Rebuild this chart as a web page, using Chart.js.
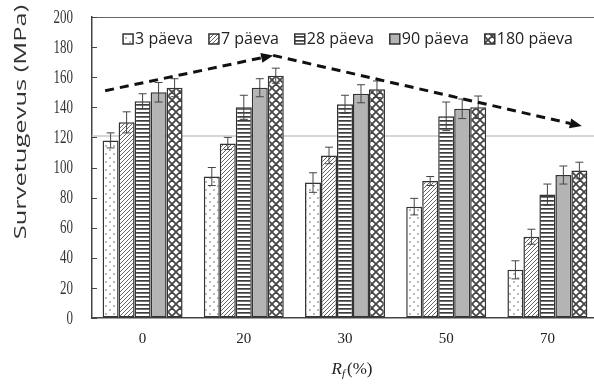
<!DOCTYPE html>
<html>
<head>
<meta charset="utf-8">
<script src="https://cdn.jsdelivr.net/npm/chart.js@4/dist/chart.umd.min.js"></script>
<style>
  html, body { margin: 0; padding: 0; background: #fff; overflow: hidden; }
  #wrap { width: 600px; height: 389px; }
</style>
</head>
<body>
<div id="wrap"><canvas id="c" width="600" height="389"></canvas></div>
<script>
// Compressive strength by replacement ratio and curing age
const categories = ['0', '20', '30', '50', '70'];
const seriesNames = ['3 päeva', '7 päeva', '28 päeva', '90 päeva', '180 päeva'];

const day3   = [118, 94, 90, 74, 32];
const day7   = [130, 116, 108, 91, 54];
const day28  = [144, 140, 142, 134, 82];
const day90  = [150, 153, 149, 139, 95];
const day180 = [153, 161, 152, 140, 98];

const err3   = [5, 6, 6.5, 5.5, 6];
const err7   = [7, 4, 5.5, 3, 5];
const err28  = [5, 8, 6, 9.5, 7];
const err90  = [6.5, 6, 6, 6.5, 6];
const err180 = [6, 5, 5.5, 7.5, 5.5];

// trend arrow path: x as category position, y in MPa
const trendX = [-0.37, 1.29, 4.34];
const trendY = [151, 174.5, 127.5];

const refLine = 121;
const yTicks = [0, 20, 40, 60, 80, 100, 120, 140, 160, 180, 200];

function makePattern(size, draw) {
  const cv = document.createElement('canvas');
  cv.width = size; cv.height = size;
  const g = cv.getContext('2d');
  draw(g, size);
  return g.createPattern(cv, 'repeat');
}

const fills = [
  // dotted
  makePattern(8, (g, s) => {
    g.fillStyle = '#fff'; g.fillRect(0, 0, s, s);
    g.fillStyle = '#9a9a9a';
    g.beginPath(); g.arc(2, 2, 0.9, 0, Math.PI * 2); g.fill();
    g.beginPath(); g.arc(6, 6, 0.9, 0, Math.PI * 2); g.fill();
  }),
  // diagonal hatch
  makePattern(4, (g, s) => {
    g.fillStyle = '#fff'; g.fillRect(0, 0, s, s);
    g.strokeStyle = '#666'; g.lineWidth = 1;
    g.beginPath();
    g.moveTo(0, s); g.lineTo(s, 0);
    g.moveTo(-1, 1); g.lineTo(1, -1);
    g.moveTo(s - 1, s + 1); g.lineTo(s + 1, s - 1);
    g.stroke();
  }),
  // horizontal stripes
  makePattern(4, (g, s) => {
    g.fillStyle = '#fff'; g.fillRect(0, 0, s, s);
    g.fillStyle = '#3c3c3c'; g.fillRect(0, 0, s, 1.7);
  }),
  // solid grey
  '#b4b4b4',
  // cross hatch with white diamonds
  makePattern(8, (g, s) => {
    g.fillStyle = '#fff'; g.fillRect(0, 0, s, s);
    g.strokeStyle = '#444'; g.lineWidth = 1.7;
    g.beginPath();
    g.moveTo(0, 0); g.lineTo(s, s);
    g.moveTo(0, s); g.lineTo(s, 0);
    g.moveTo(-s/2, s/2); g.lineTo(s/2, -s/2);
    g.moveTo(s/2, s + s/2); g.lineTo(s + s/2, s/2);
    g.moveTo(-s/2, s/2); g.lineTo(s/2, s + s/2);
    g.moveTo(s/2, -s/2); g.lineTo(s + s/2, s/2);
    g.stroke();
  })
];

const values = [day3, day7, day28, day90, day180];
const errors = [err3, err7, err28, err90, err180];

const datasets = values.map((v, i) => ({
  label: seriesNames[i],
  data: v,
  backgroundColor: fills[i],
  borderColor: '#333',
  borderWidth: 1.5,
  borderSkipped: false,
  errors: errors[i]
}));

const decor = {
  id: 'decor',
  beforeDatasetsDraw(chart) {
    const { ctx, chartArea: a, scales: { y } } = chart;
    const yy = y.getPixelForValue(refLine);
    ctx.save();
    ctx.strokeStyle = '#c9c9c9';
    ctx.lineWidth = 1.5;
    ctx.beginPath(); ctx.moveTo(a.left, yy); ctx.lineTo(a.right, yy); ctx.stroke();
    ctx.restore();
  },
  afterDatasetsDraw(chart) {
    const { ctx, chartArea: a, scales: { x, y } } = chart;
    ctx.save();

    // error bars
    ctx.strokeStyle = '#444';
    ctx.lineWidth = 1;
    chart.data.datasets.forEach((ds, di) => {
      const meta = chart.getDatasetMeta(di);
      meta.data.forEach((el, i) => {
        const v = ds.data[i], e = ds.errors[i];
        const t = y.getPixelForValue(v + e), b = y.getPixelForValue(v - e);
        ctx.beginPath();
        ctx.moveTo(el.x, t); ctx.lineTo(el.x, b);
        ctx.moveTo(el.x - 4, t); ctx.lineTo(el.x + 4, t);
        ctx.moveTo(el.x - 4, b); ctx.lineTo(el.x + 4, b);
        ctx.stroke();
      });
    });

    // trend arrows
    const pts = trendX.map((tx, i) => [x.getPixelForValue(tx), y.getPixelForValue(trendY[i])]);
    ctx.strokeStyle = '#111';
    ctx.fillStyle = '#111';
    ctx.lineWidth = 3;
    ctx.setLineDash([9, 6]);
    for (let i = 0; i < pts.length - 1; i++) {
      const [x0, y0] = pts[i], [x1, y1] = pts[i + 1];
      const ang = Math.atan2(y1 - y0, x1 - x0);
      const L = 12;
      ctx.beginPath();
      ctx.moveTo(x0, y0);
      ctx.lineTo(x1 - L * Math.cos(ang), y1 - L * Math.sin(ang));
      ctx.stroke();
      ctx.save();
      ctx.setLineDash([]);
      ctx.translate(x1, y1); ctx.rotate(ang);
      ctx.beginPath();
      ctx.moveTo(0, 0); ctx.lineTo(-L, -5); ctx.lineTo(-L, 5); ctx.closePath();
      ctx.fill();
      ctx.restore();
    }
    ctx.setLineDash([]);

    // frame top and inward y ticks
    ctx.strokeStyle = '#666';
    ctx.lineWidth = 1;
    ctx.beginPath(); ctx.moveTo(a.left, a.top + 0.5); ctx.lineTo(a.right, a.top + 0.5); ctx.stroke();
    ctx.strokeStyle = '#444';
    yTicks.forEach(t => {
      const yy = Math.round(y.getPixelForValue(t)) + 0.5;
      ctx.beginPath(); ctx.moveTo(a.left, yy); ctx.lineTo(a.left + 5, yy); ctx.stroke();
    });

    // y tick labels (tall serif digits)
    ctx.fillStyle = '#333';
    ctx.textAlign = 'right';
    ctx.textBaseline = 'middle';
    ctx.font = '13px "Liberation Serif"';
    yTicks.forEach(t => {
      const yy = y.getPixelForValue(t);
      ctx.save();
      ctx.translate(a.left - 19, yy);
      ctx.scale(1, 1.45);
      ctx.fillText(String(t), 0, 0.5);
      ctx.restore();
    });

    // legend
    ctx.font = '16px "Open Sans"';
    ctx.textBaseline = 'middle';
    ctx.textAlign = 'left';
    const box = 10, gapBox = 2, gapItem = 16;
    const widths = seriesNames.map(n => box + gapBox + ctx.measureText(n).width);
    const total = widths.reduce((s, w) => s + w, 0) + gapItem * (widths.length - 1);
    let lx = (a.left + a.right) / 2 - total / 2 + 3;
    const ly = a.top + 22;
    seriesNames.forEach((n, i) => {
      ctx.fillStyle = fills[i];
      ctx.fillRect(lx, ly - box / 2, box, box);
      ctx.strokeStyle = '#333'; ctx.lineWidth = 1.5;
      ctx.strokeRect(lx, ly - box / 2, box, box);
      ctx.fillStyle = '#222';
      ctx.fillText(n, lx + box + gapBox, ly);
      lx += widths[i] + gapItem;
    });

    // x axis title
    const cx = x.getPixelForValue(2) + 7;
    const ty = 369;
    ctx.fillStyle = '#222';
    ctx.textBaseline = 'alphabetic';
    ctx.font = 'italic 17px "Liberation Serif"';
    const wR = ctx.measureText('R').width;
    ctx.font = 'italic 11px "Liberation Serif"';
    const wf = ctx.measureText('f').width;
    ctx.font = '17px "Liberation Serif"';
    const wP = ctx.measureText('(%)').width;
    let sx = cx - (wR + wf + 2 + wP) / 2;
    ctx.font = 'italic 17px "Liberation Serif"';
    ctx.fillText('R', sx, ty + 5); sx += wR;
    ctx.font = 'italic 11px "Liberation Serif"';
    ctx.fillText('f', sx, ty + 8); sx += wf + 2;
    ctx.font = '17px "Liberation Serif"';
    ctx.fillText('(%)', sx, ty + 5);

    // y axis title (elongated)
    ctx.save();
    ctx.translate(21, 122);
    ctx.rotate(-Math.PI / 2);
    ctx.scale(1.5, 1);
    ctx.font = '17px "Open Sans"';
    ctx.textAlign = 'center';
    ctx.textBaseline = 'middle';
    ctx.fillStyle = '#333';
    ctx.fillText('Survetugevus (MPa)', 0, 0);
    ctx.restore();

    ctx.restore();
  }
};

new Chart(document.getElementById('c'), {
  type: 'bar',
  data: { labels: categories, datasets },
  options: {
    responsive: false,
    devicePixelRatio: 1,
    animation: false,
    layout: { padding: { top: 17, right: 2, left: 0, bottom: 0 } },
    plugins: { legend: { display: false }, tooltip: { enabled: false } },
    datasets: { bar: { categoryPercentage: 0.79, barPercentage: 1 } },
    scales: {
      x: {
        grid: { display: true, drawOnChartArea: false, drawTicks: false },
        border: { display: true, color: '#444', width: 1.5 },
        ticks: { color: '#222', font: { family: 'Liberation Serif', size: 15 }, padding: 12 },
        afterFit(s) { s.height = 71; }
      },
      y: {
        min: 0, max: 200,
        grid: { display: true, drawOnChartArea: false, drawTicks: false },
        border: { display: true, color: '#444', width: 1.5 },
        ticks: { display: false, stepSize: 20 },
        afterFit(s) { s.width = 92; }
      }
    }
  },
  plugins: [decor]
});
</script>
</body>
</html>
